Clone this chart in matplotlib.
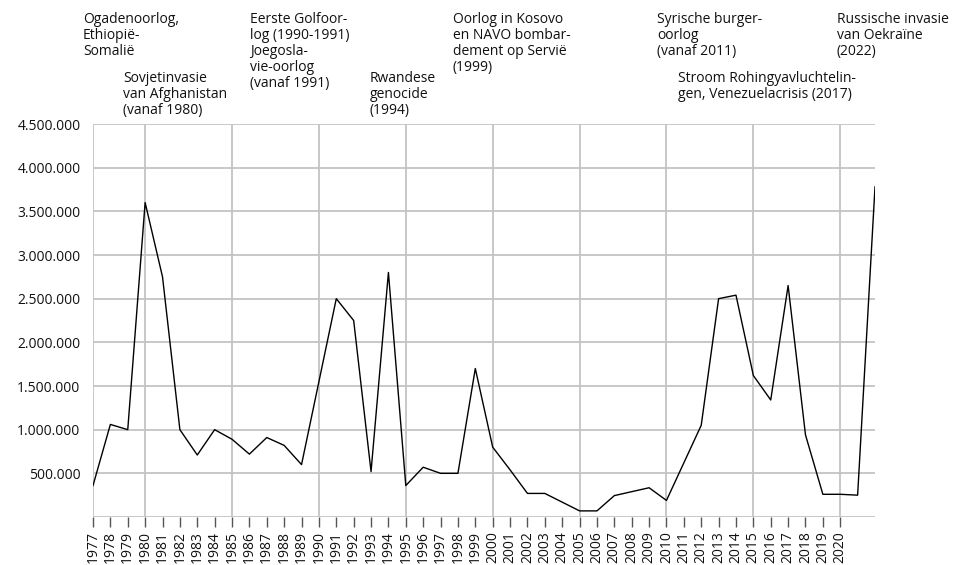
import matplotlib
matplotlib.use("Agg")
import matplotlib.pyplot as plt
from matplotlib.ticker import FuncFormatter

years = list(range(1977, 2023))
refugees = [360000, 1060000, 1000000, 3600000, 2750000, 1000000, 710000, 1000000,
            890000, 720000, 910000, 820000, 600000, 1550000, 2500000, 2250000,
            520000, 2800000, 360000, 570000, 500000, 500000, 1700000, 800000,
            540000, 270000, 270000, 170000, 70000, 70000, 245000, 290000,
            335000, 190000, 620000, 1050000, 2500000, 2540000, 1620000, 1340000,
            2650000, 940000, 260000, 260000, 250000, 3780000]
tick_years = list(range(1977, 2021))
y_ticks = [500000, 1000000, 1500000, 2000000, 2500000, 3000000, 3500000, 4000000, 4500000]

annotations = [
    ("Ogadenoorlog,\nEthiopië-\nSomalië", 83, 12),
    ("Sovjetinvasie\nvan Afghanistan\n(vanaf 1980)", 123, 71),
    ("Eerste Golfoor-\nlog (1990-1991)\nJoegosla-\nvie-oorlog\n(vanaf 1991)", 250, 12),
    ("Rwandese\ngenocide\n(1994)", 370, 71),
    ("Oorlog in Kosovo\nen NAVO bombar-\ndement op Servië\n(1999)", 453, 12),
    ("Syrische burger-\noorlog\n(vanaf 2011)", 657, 12),
    ("Stroom Rohingyavluchtelin-\ngen, Venezuelacrisis (2017)", 678, 71),
    ("Russische invasie\nvan Oekraïne\n(2022)", 837, 12),
]

FONT = "Open Sans"
FS = 10.0
W, H = 954, 565
fig = plt.figure(figsize=(W / 100, H / 100), dpi=100)
ax = fig.add_axes([93 / W, 1 - 517 / H, (875 - 93) / W, (517 - 124) / H])

ax.plot(years, refugees, color="black", lw=1.0, zorder=3)

ax.set_xlim(1977, 2022)
ax.set_ylim(0, 4500000)
ax.set_yticks(y_ticks)
ax.yaxis.set_major_formatter(FuncFormatter(lambda v, p: f"{int(v):,}".replace(",", ".")))
ax.set_xticks(tick_years)
ax.set_xticklabels([str(y) for y in tick_years], rotation=90, fontfamily=FONT, fontsize=FS)
for lab in ax.get_yticklabels():
    lab.set_fontfamily(FONT)
    lab.set_fontsize(FS)

gc = "#c4c4c4"
for v in y_ticks + [0]:
    ax.axhline(v, color=gc, lw=1.3, zorder=1)
for yr in [1977, 1980, 1985, 1990, 1995, 2000, 2005, 2010, 2015, 2020]:
    ax.axvline(yr, color=gc, lw=1.3, zorder=1)

for s in ax.spines.values():
    s.set_visible(False)
ax.tick_params(axis="y", length=0, pad=9, colors="#111111")
ax.tick_params(axis="x", length=7, width=1.0, color="#555555", pad=3, colors="#111111")

for txt, px, py in annotations:
    fig.text(px / W, 1 - py / H, txt, ha="left", va="top", fontsize=FS,
             fontfamily=FONT, linespacing=1.08, color="#111111")

fig.savefig("out.png", dpi=100)
